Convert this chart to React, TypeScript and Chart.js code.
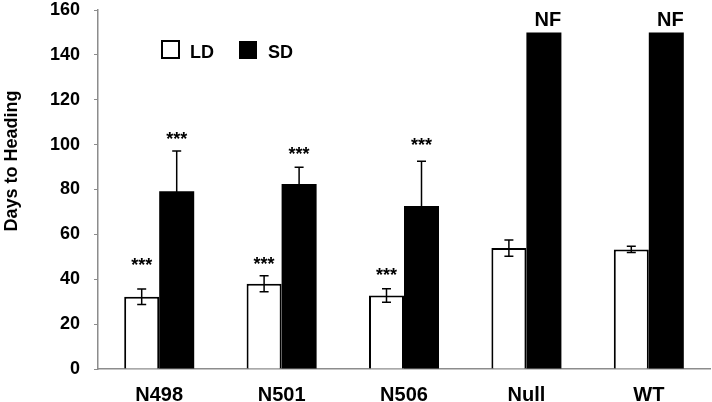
import React, { useEffect, useRef } from "react";
import { Chart, registerables } from "chart.js";

Chart.register(...registerables);

const categories = ["N498", "N501", "N506", "Null", "WT"];
const ldValues = [32.2, 38.0, 32.8, 53.9, 53.3];
const ldErrors = [3.5, 3.6, 3.0, 3.6, 1.4];
const sdValues = [79.2, 82.4, 72.6, 150, 150];
const sdErrors = [18, 7.5, 20, 0, 0];
const ldMarks = ["***", "***", "***", "", ""];
const ldMarkY = [47.4, 47.8, 42.8, 0, 0];
const sdMarks = ["***", "***", "***", "NF", "NF"];
const sdMarkY = [103.3, 96.6, 100.5, 155.5, 155.5];
const seriesNames = ["LD", "SD"];
const yTitle = "Days to Heading";
const yMin = 0;
const yMax = 160;
const yStep = 20;

const FONT = '"Liberation Sans", Arial, Helvetica, sans-serif';

const errorBarPlugin = {
  id: "errorBars",
  afterDatasetsDraw(chart: any) {
    const ctx = chart.ctx;
    const yScale = chart.scales.y;
    const errs = [ldErrors, sdErrors];
    const vals = [ldValues, sdValues];
    ctx.save();
    ctx.strokeStyle = "#000";
    ctx.lineWidth = 1.5;
    for (let d = 0; d < 2; d++) {
      const meta = chart.getDatasetMeta(d);
      meta.data.forEach((el: any, i: number) => {
        const e = errs[d][i];
        if (!e) return;
        const v = vals[d][i];
        const x = el.x;
        const yt = yScale.getPixelForValue(v + e);
        const yb = yScale.getPixelForValue(v - e);
        const cap = 4.5;
        ctx.beginPath();
        ctx.moveTo(x, yt);
        ctx.lineTo(x, yb);
        ctx.moveTo(x - cap, yt);
        ctx.lineTo(x + cap, yt);
        ctx.moveTo(x - cap, yb);
        ctx.lineTo(x + cap, yb);
        ctx.stroke();
      });
    }
    const marks = [ldMarks, sdMarks];
    const markY = [ldMarkY, sdMarkY];
    ctx.fillStyle = "#000";
    ctx.textAlign = "center";
    ctx.textBaseline = "middle";
    for (let d = 0; d < 2; d++) {
      const meta = chart.getDatasetMeta(d);
      meta.data.forEach((el: any, i: number) => {
        const m = marks[d][i];
        if (!m) return;
        const y = yScale.getPixelForValue(markY[d][i]);
        if (m === "NF") {
          ctx.font = `bold 20px ${FONT}`;
          ctx.fillText(m, el.x + 4, y);
        } else {
          ctx.font = `bold 18px ${FONT}`;
          ctx.fillText(m, el.x, y + 3);
        }
      });
    }
    ctx.restore();
  },
};

const decorPlugin = {
  id: "decor",
  afterDraw(chart: any) {
    const ctx = chart.ctx;
    const area = chart.chartArea;
    ctx.save();
    ctx.font = `bold 18px ${FONT}`;
    ctx.fillStyle = "#000";
    ctx.textAlign = "center";
    ctx.textBaseline = "middle";
    ctx.translate(12, 161);
    ctx.rotate(-Math.PI / 2);
    ctx.fillText(yTitle, 0, 0);
    ctx.restore();

    ctx.save();
    const lx = area.left + 64;
    const ly = 41;
    const sz = 17;
    ctx.lineWidth = 2;
    ctx.strokeStyle = "#000";
    ctx.fillStyle = "#fff";
    ctx.fillRect(lx, ly, sz, sz);
    ctx.strokeRect(lx, ly, sz, sz);
    ctx.fillStyle = "#000";
    ctx.fillRect(lx + 77, ly, sz + 1, sz + 1);
    ctx.font = `bold 18px ${FONT}`;
    ctx.textAlign = "left";
    ctx.textBaseline = "middle";
    ctx.fillText(seriesNames[0], lx + 28, ly + 12);
    ctx.fillText(seriesNames[1], lx + 106, ly + 12);
    ctx.restore();
  },
};

export default function App() {
  const ref = useRef<HTMLCanvasElement | null>(null);
  useEffect(() => {
    document.body.style.margin = "0";
    if (!ref.current) return;
    const chart = new Chart(ref.current, {
      type: "bar",
      data: {
        labels: categories,
        datasets: [
          {
            label: seriesNames[0],
            data: ldValues,
            backgroundColor: "#ffffff",
            borderColor: "#000000",
            borderWidth: 2,
            borderSkipped: "bottom",
            categoryPercentage: 0.572,
            barPercentage: 1,
          },
          {
            label: seriesNames[1],
            data: sdValues,
            backgroundColor: "#000000",
            borderColor: "#000000",
            borderWidth: 0,
            categoryPercentage: 0.572,
            barPercentage: 1,
          },
        ],
      },
      options: {
        responsive: false,
        animation: false,
        layout: { padding: { top: 10, right: 2, left: 0, bottom: 0 } },
        plugins: {
          legend: { display: false },
          tooltip: { enabled: false },
        },
        scales: {
          x: {
            grid: { display: false, drawTicks: false, tickLength: 0 },
            border: { display: true, color: "#8c8c8c", width: 1.5 },
            ticks: {
              color: "#000",
              font: { family: FONT, size: 20, weight: "bold" },
              padding: 14,
              maxRotation: 0,
            },
            afterFit(scale: any) {
              scale.height = 33;
              scale.paddingLeft = 0;
              scale.paddingRight = 0;
            },
          },
          y: {
            min: yMin,
            max: yMax,
            grid: { drawOnChartArea: false, tickLength: 4, color: "#8c8c8c" },
            border: { display: true, color: "#8c8c8c", width: 1.5 },
            ticks: {
              stepSize: yStep,
              color: "#000",
              font: { family: FONT, size: 18, weight: "bold" },
              padding: 14,
            },
            afterFit(scale: any) {
              scale.width = 98;
              scale.paddingTop = 0;
              scale.paddingBottom = 0;
            },
          },
        },
      },
      plugins: [errorBarPlugin, decorPlugin],
    } as any);
    return () => chart.destroy();
  }, []);
  return <canvas ref={ref} width={712} height={402} />;
}
